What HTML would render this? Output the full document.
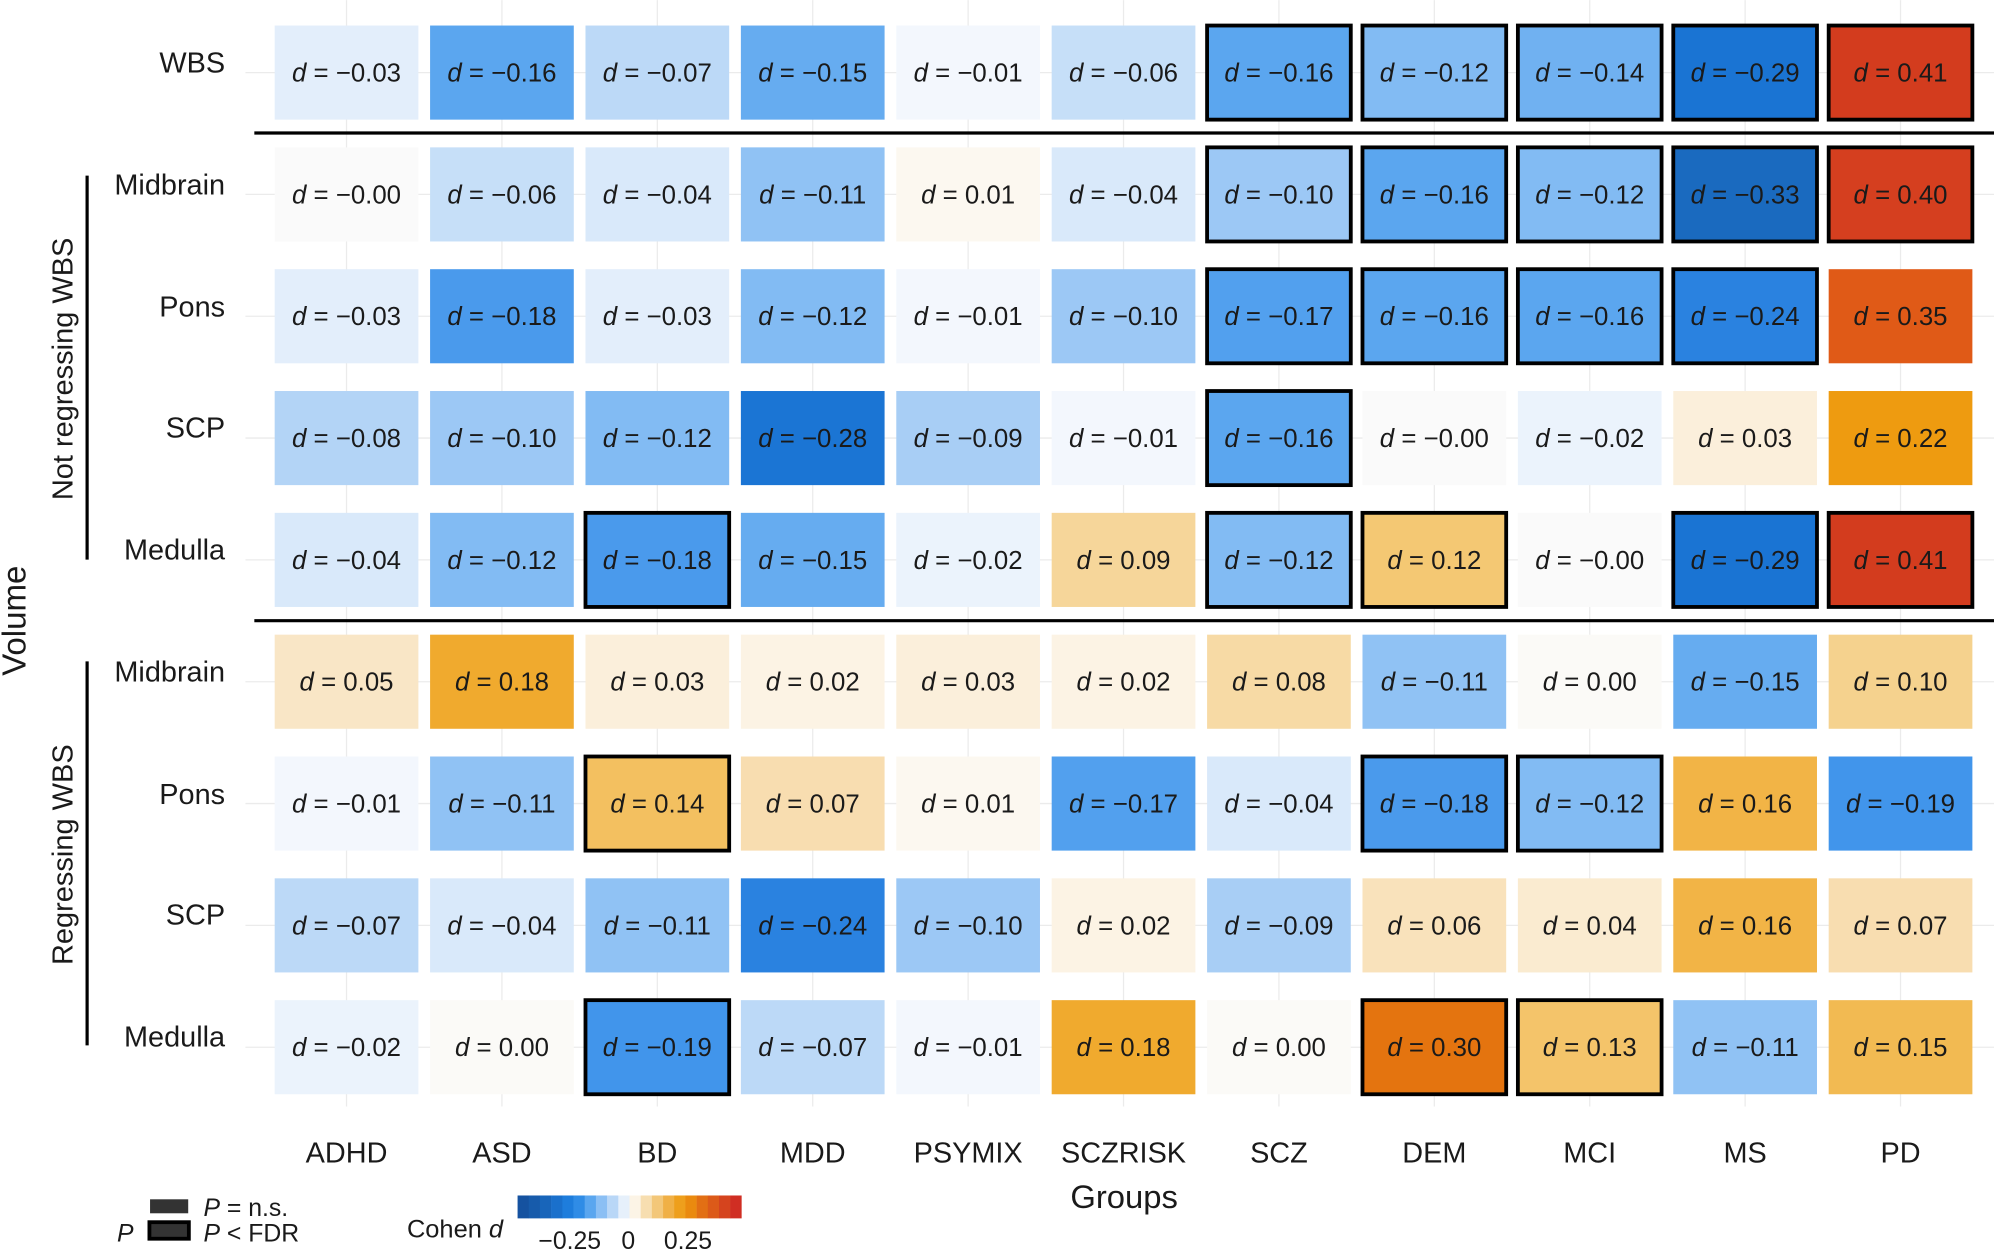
<!DOCTYPE html>
<html><head><meta charset="utf-8"><style>
html,body{margin:0;padding:0;background:#fff}
svg{display:block}
text{font-family:"Liberation Sans",sans-serif;fill:#1a1a1a}
.c text{font-size:20.3px;text-anchor:middle}
.b rect{stroke:#000;stroke-width:3}
.rl{font-size:22.7px;text-anchor:end}
.xl{font-size:22.7px;text-anchor:middle}
</style></head><body>
<svg width="1994" height="1249" viewBox="0 0 1568 982" xmlns="http://www.w3.org/2000/svg">
<g stroke="#ebebeb" stroke-width="1">
<line x1="272.5" y1="0" x2="272.5" y2="870"/><line x1="394.7" y1="0" x2="394.7" y2="870"/><line x1="516.9" y1="0" x2="516.9" y2="870"/><line x1="639.1" y1="0" x2="639.1" y2="870"/><line x1="761.3" y1="0" x2="761.3" y2="870"/><line x1="883.5" y1="0" x2="883.5" y2="870"/><line x1="1005.7" y1="0" x2="1005.7" y2="870"/><line x1="1127.9" y1="0" x2="1127.9" y2="870"/><line x1="1250.1" y1="0" x2="1250.1" y2="870"/><line x1="1372.3" y1="0" x2="1372.3" y2="870"/><line x1="1494.5" y1="0" x2="1494.5" y2="870"/>
<line x1="193" y1="57" x2="1568" y2="57"/><line x1="193" y1="152.8" x2="1568" y2="152.8"/><line x1="193" y1="248.6" x2="1568" y2="248.6"/><line x1="193" y1="344.4" x2="1568" y2="344.4"/><line x1="193" y1="440.2" x2="1568" y2="440.2"/><line x1="193" y1="536" x2="1568" y2="536"/><line x1="193" y1="631.8" x2="1568" y2="631.8"/><line x1="193" y1="727.6" x2="1568" y2="727.6"/><line x1="193" y1="823.4" x2="1568" y2="823.4"/>
</g>

<!-- WBS -->
<g transform="translate(0,20)">
<g class="c" transform="translate(216,0)"><rect width="113" height="74" fill="#e3eefb"/><text x="56.5" y="44"><tspan font-style="italic">d</tspan> = −0.03</text></g>
<g class="c" transform="translate(338.2,0)"><rect width="113" height="74" fill="#5ba6ef"/><text x="56.5" y="44"><tspan font-style="italic">d</tspan> = −0.16</text></g>
<g class="c" transform="translate(460.4,0)"><rect width="113" height="74" fill="#bcd9f7"/><text x="56.5" y="44"><tspan font-style="italic">d</tspan> = −0.07</text></g>
<g class="c" transform="translate(582.6,0)"><rect width="113" height="74" fill="#66acf0"/><text x="56.5" y="44"><tspan font-style="italic">d</tspan> = −0.15</text></g>
<g class="c" transform="translate(704.8,0)"><rect width="113" height="74" fill="#f3f7fd"/><text x="56.5" y="44"><tspan font-style="italic">d</tspan> = −0.01</text></g>
<g class="c" transform="translate(827,0)"><rect width="113" height="74" fill="#c6dff8"/><text x="56.5" y="44"><tspan font-style="italic">d</tspan> = −0.06</text></g>
<g class="c b" transform="translate(949.2,0)"><rect width="113" height="74" fill="#5ba6ef"/><text x="56.5" y="44"><tspan font-style="italic">d</tspan> = −0.16</text></g>
<g class="c b" transform="translate(1071.4,0)"><rect width="113" height="74" fill="#82bbf3"/><text x="56.5" y="44"><tspan font-style="italic">d</tspan> = −0.12</text></g>
<g class="c b" transform="translate(1193.6,0)"><rect width="113" height="74" fill="#70b1f1"/><text x="56.5" y="44"><tspan font-style="italic">d</tspan> = −0.14</text></g>
<g class="c b" transform="translate(1315.8,0)"><rect width="113" height="74" fill="#1a74d3"/><text x="56.5" y="44"><tspan font-style="italic">d</tspan> = −0.29</text></g>
<g class="c b" transform="translate(1438,0)"><rect width="113" height="74" fill="#d33c1e"/><text x="56.5" y="44"><tspan font-style="italic">d</tspan> = 0.41</text></g>
</g>

<!-- Midbrain -->
<g transform="translate(0,115.8)">
<g class="c" transform="translate(216,0)"><rect width="113" height="74" fill="#fafafa"/><text x="56.5" y="44"><tspan font-style="italic">d</tspan> = −0.00</text></g>
<g class="c" transform="translate(338.2,0)"><rect width="113" height="74" fill="#c6dff8"/><text x="56.5" y="44"><tspan font-style="italic">d</tspan> = −0.06</text></g>
<g class="c" transform="translate(460.4,0)"><rect width="113" height="74" fill="#d9e9fa"/><text x="56.5" y="44"><tspan font-style="italic">d</tspan> = −0.04</text></g>
<g class="c" transform="translate(582.6,0)"><rect width="113" height="74" fill="#90c2f4"/><text x="56.5" y="44"><tspan font-style="italic">d</tspan> = −0.11</text></g>
<g class="c" transform="translate(704.8,0)"><rect width="113" height="74" fill="#fcf8f0"/><text x="56.5" y="44"><tspan font-style="italic">d</tspan> = 0.01</text></g>
<g class="c" transform="translate(827,0)"><rect width="113" height="74" fill="#d9e9fa"/><text x="56.5" y="44"><tspan font-style="italic">d</tspan> = −0.04</text></g>
<g class="c b" transform="translate(949.2,0)"><rect width="113" height="74" fill="#9cc8f5"/><text x="56.5" y="44"><tspan font-style="italic">d</tspan> = −0.10</text></g>
<g class="c b" transform="translate(1071.4,0)"><rect width="113" height="74" fill="#5ba6ef"/><text x="56.5" y="44"><tspan font-style="italic">d</tspan> = −0.16</text></g>
<g class="c b" transform="translate(1193.6,0)"><rect width="113" height="74" fill="#82bbf3"/><text x="56.5" y="44"><tspan font-style="italic">d</tspan> = −0.12</text></g>
<g class="c b" transform="translate(1315.8,0)"><rect width="113" height="74" fill="#1a6abf"/><text x="56.5" y="44"><tspan font-style="italic">d</tspan> = −0.33</text></g>
<g class="c b" transform="translate(1438,0)"><rect width="113" height="74" fill="#d53f1f"/><text x="56.5" y="44"><tspan font-style="italic">d</tspan> = 0.40</text></g>
</g>

<!-- Pons -->
<g transform="translate(0,211.6)">
<g class="c" transform="translate(216,0)"><rect width="113" height="74" fill="#e3eefb"/><text x="56.5" y="44"><tspan font-style="italic">d</tspan> = −0.03</text></g>
<g class="c" transform="translate(338.2,0)"><rect width="113" height="74" fill="#4a9aec"/><text x="56.5" y="44"><tspan font-style="italic">d</tspan> = −0.18</text></g>
<g class="c" transform="translate(460.4,0)"><rect width="113" height="74" fill="#e3eefb"/><text x="56.5" y="44"><tspan font-style="italic">d</tspan> = −0.03</text></g>
<g class="c" transform="translate(582.6,0)"><rect width="113" height="74" fill="#82bbf3"/><text x="56.5" y="44"><tspan font-style="italic">d</tspan> = −0.12</text></g>
<g class="c" transform="translate(704.8,0)"><rect width="113" height="74" fill="#f3f7fd"/><text x="56.5" y="44"><tspan font-style="italic">d</tspan> = −0.01</text></g>
<g class="c" transform="translate(827,0)"><rect width="113" height="74" fill="#9cc8f5"/><text x="56.5" y="44"><tspan font-style="italic">d</tspan> = −0.10</text></g>
<g class="c b" transform="translate(949.2,0)"><rect width="113" height="74" fill="#52a0ee"/><text x="56.5" y="44"><tspan font-style="italic">d</tspan> = −0.17</text></g>
<g class="c b" transform="translate(1071.4,0)"><rect width="113" height="74" fill="#5ba6ef"/><text x="56.5" y="44"><tspan font-style="italic">d</tspan> = −0.16</text></g>
<g class="c b" transform="translate(1193.6,0)"><rect width="113" height="74" fill="#5ba6ef"/><text x="56.5" y="44"><tspan font-style="italic">d</tspan> = −0.16</text></g>
<g class="c b" transform="translate(1315.8,0)"><rect width="113" height="74" fill="#2a82e0"/><text x="56.5" y="44"><tspan font-style="italic">d</tspan> = −0.24</text></g>
<g class="c" transform="translate(1438,0)"><rect width="113" height="74" fill="#e05a17"/><text x="56.5" y="44"><tspan font-style="italic">d</tspan> = 0.35</text></g>
</g>

<!-- SCP -->
<g transform="translate(0,307.4)">
<g class="c" transform="translate(216,0)"><rect width="113" height="74" fill="#b3d4f6"/><text x="56.5" y="44"><tspan font-style="italic">d</tspan> = −0.08</text></g>
<g class="c" transform="translate(338.2,0)"><rect width="113" height="74" fill="#9cc8f5"/><text x="56.5" y="44"><tspan font-style="italic">d</tspan> = −0.10</text></g>
<g class="c" transform="translate(460.4,0)"><rect width="113" height="74" fill="#82bbf3"/><text x="56.5" y="44"><tspan font-style="italic">d</tspan> = −0.12</text></g>
<g class="c" transform="translate(582.6,0)"><rect width="113" height="74" fill="#1b75d4"/><text x="56.5" y="44"><tspan font-style="italic">d</tspan> = −0.28</text></g>
<g class="c" transform="translate(704.8,0)"><rect width="113" height="74" fill="#a8cef5"/><text x="56.5" y="44"><tspan font-style="italic">d</tspan> = −0.09</text></g>
<g class="c" transform="translate(827,0)"><rect width="113" height="74" fill="#f3f7fd"/><text x="56.5" y="44"><tspan font-style="italic">d</tspan> = −0.01</text></g>
<g class="c b" transform="translate(949.2,0)"><rect width="113" height="74" fill="#5ba6ef"/><text x="56.5" y="44"><tspan font-style="italic">d</tspan> = −0.16</text></g>
<g class="c" transform="translate(1071.4,0)"><rect width="113" height="74" fill="#fafafa"/><text x="56.5" y="44"><tspan font-style="italic">d</tspan> = −0.00</text></g>
<g class="c" transform="translate(1193.6,0)"><rect width="113" height="74" fill="#ebf3fc"/><text x="56.5" y="44"><tspan font-style="italic">d</tspan> = −0.02</text></g>
<g class="c" transform="translate(1315.8,0)"><rect width="113" height="74" fill="#fbefdb"/><text x="56.5" y="44"><tspan font-style="italic">d</tspan> = 0.03</text></g>
<g class="c" transform="translate(1438,0)"><rect width="113" height="74" fill="#ee9b10"/><text x="56.5" y="44"><tspan font-style="italic">d</tspan> = 0.22</text></g>
</g>

<!-- Medulla -->
<g transform="translate(0,403.2)">
<g class="c" transform="translate(216,0)"><rect width="113" height="74" fill="#d9e9fa"/><text x="56.5" y="44"><tspan font-style="italic">d</tspan> = −0.04</text></g>
<g class="c" transform="translate(338.2,0)"><rect width="113" height="74" fill="#82bbf3"/><text x="56.5" y="44"><tspan font-style="italic">d</tspan> = −0.12</text></g>
<g class="c b" transform="translate(460.4,0)"><rect width="113" height="74" fill="#4a9aec"/><text x="56.5" y="44"><tspan font-style="italic">d</tspan> = −0.18</text></g>
<g class="c" transform="translate(582.6,0)"><rect width="113" height="74" fill="#66acf0"/><text x="56.5" y="44"><tspan font-style="italic">d</tspan> = −0.15</text></g>
<g class="c" transform="translate(704.8,0)"><rect width="113" height="74" fill="#ebf3fc"/><text x="56.5" y="44"><tspan font-style="italic">d</tspan> = −0.02</text></g>
<g class="c" transform="translate(827,0)"><rect width="113" height="74" fill="#f6d69a"/><text x="56.5" y="44"><tspan font-style="italic">d</tspan> = 0.09</text></g>
<g class="c b" transform="translate(949.2,0)"><rect width="113" height="74" fill="#82bbf3"/><text x="56.5" y="44"><tspan font-style="italic">d</tspan> = −0.12</text></g>
<g class="c b" transform="translate(1071.4,0)"><rect width="113" height="74" fill="#f4c873"/><text x="56.5" y="44"><tspan font-style="italic">d</tspan> = 0.12</text></g>
<g class="c" transform="translate(1193.6,0)"><rect width="113" height="74" fill="#fafafa"/><text x="56.5" y="44"><tspan font-style="italic">d</tspan> = −0.00</text></g>
<g class="c b" transform="translate(1315.8,0)"><rect width="113" height="74" fill="#1a74d3"/><text x="56.5" y="44"><tspan font-style="italic">d</tspan> = −0.29</text></g>
<g class="c b" transform="translate(1438,0)"><rect width="113" height="74" fill="#d33c1e"/><text x="56.5" y="44"><tspan font-style="italic">d</tspan> = 0.41</text></g>
</g>

<!-- R Midbrain -->
<g transform="translate(0,499)">
<g class="c" transform="translate(216,0)"><rect width="113" height="74" fill="#f9e6c6"/><text x="56.5" y="44"><tspan font-style="italic">d</tspan> = 0.05</text></g>
<g class="c" transform="translate(338.2,0)"><rect width="113" height="74" fill="#f0aa2e"/><text x="56.5" y="44"><tspan font-style="italic">d</tspan> = 0.18</text></g>
<g class="c" transform="translate(460.4,0)"><rect width="113" height="74" fill="#fbefdb"/><text x="56.5" y="44"><tspan font-style="italic">d</tspan> = 0.03</text></g>
<g class="c" transform="translate(582.6,0)"><rect width="113" height="74" fill="#fcf3e4"/><text x="56.5" y="44"><tspan font-style="italic">d</tspan> = 0.02</text></g>
<g class="c" transform="translate(704.8,0)"><rect width="113" height="74" fill="#fbefdb"/><text x="56.5" y="44"><tspan font-style="italic">d</tspan> = 0.03</text></g>
<g class="c" transform="translate(827,0)"><rect width="113" height="74" fill="#fcf3e4"/><text x="56.5" y="44"><tspan font-style="italic">d</tspan> = 0.02</text></g>
<g class="c" transform="translate(949.2,0)"><rect width="113" height="74" fill="#f7daa5"/><text x="56.5" y="44"><tspan font-style="italic">d</tspan> = 0.08</text></g>
<g class="c" transform="translate(1071.4,0)"><rect width="113" height="74" fill="#90c2f4"/><text x="56.5" y="44"><tspan font-style="italic">d</tspan> = −0.11</text></g>
<g class="c" transform="translate(1193.6,0)"><rect width="113" height="74" fill="#fbfaf7"/><text x="56.5" y="44"><tspan font-style="italic">d</tspan> = 0.00</text></g>
<g class="c" transform="translate(1315.8,0)"><rect width="113" height="74" fill="#66acf0"/><text x="56.5" y="44"><tspan font-style="italic">d</tspan> = −0.15</text></g>
<g class="c" transform="translate(1438,0)"><rect width="113" height="74" fill="#f5d28e"/><text x="56.5" y="44"><tspan font-style="italic">d</tspan> = 0.10</text></g>
</g>

<!-- R Pons -->
<g transform="translate(0,594.8)">
<g class="c" transform="translate(216,0)"><rect width="113" height="74" fill="#f3f7fd"/><text x="56.5" y="44"><tspan font-style="italic">d</tspan> = −0.01</text></g>
<g class="c" transform="translate(338.2,0)"><rect width="113" height="74" fill="#90c2f4"/><text x="56.5" y="44"><tspan font-style="italic">d</tspan> = −0.11</text></g>
<g class="c b" transform="translate(460.4,0)"><rect width="113" height="74" fill="#f3c060"/><text x="56.5" y="44"><tspan font-style="italic">d</tspan> = 0.14</text></g>
<g class="c" transform="translate(582.6,0)"><rect width="113" height="74" fill="#f8ddb0"/><text x="56.5" y="44"><tspan font-style="italic">d</tspan> = 0.07</text></g>
<g class="c" transform="translate(704.8,0)"><rect width="113" height="74" fill="#fcf8f0"/><text x="56.5" y="44"><tspan font-style="italic">d</tspan> = 0.01</text></g>
<g class="c" transform="translate(827,0)"><rect width="113" height="74" fill="#52a0ee"/><text x="56.5" y="44"><tspan font-style="italic">d</tspan> = −0.17</text></g>
<g class="c" transform="translate(949.2,0)"><rect width="113" height="74" fill="#d9e9fa"/><text x="56.5" y="44"><tspan font-style="italic">d</tspan> = −0.04</text></g>
<g class="c b" transform="translate(1071.4,0)"><rect width="113" height="74" fill="#4a9aec"/><text x="56.5" y="44"><tspan font-style="italic">d</tspan> = −0.18</text></g>
<g class="c b" transform="translate(1193.6,0)"><rect width="113" height="74" fill="#82bbf3"/><text x="56.5" y="44"><tspan font-style="italic">d</tspan> = −0.12</text></g>
<g class="c" transform="translate(1315.8,0)"><rect width="113" height="74" fill="#f2b446"/><text x="56.5" y="44"><tspan font-style="italic">d</tspan> = 0.16</text></g>
<g class="c" transform="translate(1438,0)"><rect width="113" height="74" fill="#4195eb"/><text x="56.5" y="44"><tspan font-style="italic">d</tspan> = −0.19</text></g>
</g>

<!-- R SCP -->
<g transform="translate(0,690.6)">
<g class="c" transform="translate(216,0)"><rect width="113" height="74" fill="#bcd9f7"/><text x="56.5" y="44"><tspan font-style="italic">d</tspan> = −0.07</text></g>
<g class="c" transform="translate(338.2,0)"><rect width="113" height="74" fill="#d9e9fa"/><text x="56.5" y="44"><tspan font-style="italic">d</tspan> = −0.04</text></g>
<g class="c" transform="translate(460.4,0)"><rect width="113" height="74" fill="#90c2f4"/><text x="56.5" y="44"><tspan font-style="italic">d</tspan> = −0.11</text></g>
<g class="c" transform="translate(582.6,0)"><rect width="113" height="74" fill="#2a82e0"/><text x="56.5" y="44"><tspan font-style="italic">d</tspan> = −0.24</text></g>
<g class="c" transform="translate(704.8,0)"><rect width="113" height="74" fill="#9cc8f5"/><text x="56.5" y="44"><tspan font-style="italic">d</tspan> = −0.10</text></g>
<g class="c" transform="translate(827,0)"><rect width="113" height="74" fill="#fcf3e4"/><text x="56.5" y="44"><tspan font-style="italic">d</tspan> = 0.02</text></g>
<g class="c" transform="translate(949.2,0)"><rect width="113" height="74" fill="#a8cef5"/><text x="56.5" y="44"><tspan font-style="italic">d</tspan> = −0.09</text></g>
<g class="c" transform="translate(1071.4,0)"><rect width="113" height="74" fill="#f9e2bb"/><text x="56.5" y="44"><tspan font-style="italic">d</tspan> = 0.06</text></g>
<g class="c" transform="translate(1193.6,0)"><rect width="113" height="74" fill="#faebd0"/><text x="56.5" y="44"><tspan font-style="italic">d</tspan> = 0.04</text></g>
<g class="c" transform="translate(1315.8,0)"><rect width="113" height="74" fill="#f2b446"/><text x="56.5" y="44"><tspan font-style="italic">d</tspan> = 0.16</text></g>
<g class="c" transform="translate(1438,0)"><rect width="113" height="74" fill="#f8ddb0"/><text x="56.5" y="44"><tspan font-style="italic">d</tspan> = 0.07</text></g>
</g>

<!-- R Medulla -->
<g transform="translate(0,786.4)">
<g class="c" transform="translate(216,0)"><rect width="113" height="74" fill="#ebf3fc"/><text x="56.5" y="44"><tspan font-style="italic">d</tspan> = −0.02</text></g>
<g class="c" transform="translate(338.2,0)"><rect width="113" height="74" fill="#fbfaf7"/><text x="56.5" y="44"><tspan font-style="italic">d</tspan> = 0.00</text></g>
<g class="c b" transform="translate(460.4,0)"><rect width="113" height="74" fill="#4195eb"/><text x="56.5" y="44"><tspan font-style="italic">d</tspan> = −0.19</text></g>
<g class="c" transform="translate(582.6,0)"><rect width="113" height="74" fill="#bcd9f7"/><text x="56.5" y="44"><tspan font-style="italic">d</tspan> = −0.07</text></g>
<g class="c" transform="translate(704.8,0)"><rect width="113" height="74" fill="#f3f7fd"/><text x="56.5" y="44"><tspan font-style="italic">d</tspan> = −0.01</text></g>
<g class="c" transform="translate(827,0)"><rect width="113" height="74" fill="#f0aa2e"/><text x="56.5" y="44"><tspan font-style="italic">d</tspan> = 0.18</text></g>
<g class="c" transform="translate(949.2,0)"><rect width="113" height="74" fill="#fbfaf7"/><text x="56.5" y="44"><tspan font-style="italic">d</tspan> = 0.00</text></g>
<g class="c b" transform="translate(1071.4,0)"><rect width="113" height="74" fill="#e4740f"/><text x="56.5" y="44"><tspan font-style="italic">d</tspan> = 0.30</text></g>
<g class="c b" transform="translate(1193.6,0)"><rect width="113" height="74" fill="#f4c46a"/><text x="56.5" y="44"><tspan font-style="italic">d</tspan> = 0.13</text></g>
<g class="c" transform="translate(1315.8,0)"><rect width="113" height="74" fill="#90c2f4"/><text x="56.5" y="44"><tspan font-style="italic">d</tspan> = −0.11</text></g>
<g class="c" transform="translate(1438,0)"><rect width="113" height="74" fill="#f2ba52"/><text x="56.5" y="44"><tspan font-style="italic">d</tspan> = 0.15</text></g>
</g>

<!-- separators -->
<line x1="200" y1="104.5" x2="1568" y2="104.5" stroke="#000" stroke-width="2.5"/>
<line x1="200" y1="488" x2="1568" y2="488" stroke="#000" stroke-width="2.5"/>
<line x1="68.5" y1="138" x2="68.5" y2="440" stroke="#000" stroke-width="2.5"/>
<line x1="68.5" y1="520" x2="68.5" y2="822" stroke="#000" stroke-width="2.5"/>

<!-- row labels -->
<text class="rl" x="177" y="57">WBS</text>
<text class="rl" x="177" y="153">Midbrain</text>
<text class="rl" x="177" y="249">Pons</text>
<text class="rl" x="177" y="344">SCP</text>
<text class="rl" x="177" y="440">Medulla</text>
<text class="rl" x="177" y="536">Midbrain</text>
<text class="rl" x="177" y="632">Pons</text>
<text class="rl" x="177" y="727">SCP</text>
<text class="rl" x="177" y="823">Medulla</text>
<text font-size="22.8" text-anchor="middle" transform="translate(57,290) rotate(-90)">Not regressing WBS</text>
<text font-size="22.8" text-anchor="middle" transform="translate(57,672) rotate(-90)">Regressing WBS</text>
<text font-size="26" text-anchor="middle" transform="translate(20,488) rotate(-90)">Volume</text>

<!-- x labels -->
<text class="xl" x="272.5" y="914">ADHD</text>
<text class="xl" x="394.7" y="914">ASD</text>
<text class="xl" x="516.9" y="914">BD</text>
<text class="xl" x="639.1" y="914">MDD</text>
<text class="xl" x="761.3" y="914">PSYMIX</text>
<text class="xl" x="883.5" y="914">SCZRISK</text>
<text class="xl" x="1005.7" y="914">SCZ</text>
<text class="xl" x="1127.9" y="914">DEM</text>
<text class="xl" x="1250.1" y="914">MCI</text>
<text class="xl" x="1372.3" y="914">MS</text>
<text class="xl" x="1494.5" y="914">PD</text>
<text font-size="25.8" text-anchor="middle" x="884" y="950">Groups</text>

<!-- legend -->
<rect x="118" y="943" width="30" height="11" fill="#333"/>
<rect x="117.5" y="961" width="31" height="13" fill="#333" stroke="#000" stroke-width="3"/>
<text font-size="19.5" x="160" y="956"><tspan font-style="italic">P</tspan> = n.s.</text>
<text font-size="19.5" x="160" y="976"><tspan font-style="italic">P</tspan> &lt; FDR</text>
<text font-size="19.5" x="92" y="976" font-style="italic">P</text>
<text font-size="20" x="320" y="973">Cohen <tspan font-style="italic">d</tspan></text>
<g transform="translate(407,940)">
<rect x="0" width="9" height="18" fill="#1552a0"/><rect x="8.8" width="9" height="18" fill="#175bab"/><rect x="17.6" width="9" height="18" fill="#1865ba"/><rect x="26.4" width="9" height="18" fill="#1a70cc"/><rect x="35.2" width="9" height="18" fill="#1e7ddc"/><rect x="44" width="9" height="18" fill="#2f8ce6"/><rect x="52.8" width="9" height="18" fill="#5aa6ef"/><rect x="61.6" width="9" height="18" fill="#8bbff4"/><rect x="70.4" width="9" height="18" fill="#b9d7f7"/><rect x="79.2" width="9" height="18" fill="#e6f0fb"/><rect x="88" width="9" height="18" fill="#fcf4e6"/><rect x="96.8" width="9" height="18" fill="#f7deb0"/><rect x="105.6" width="9" height="18" fill="#f3c779"/><rect x="114.4" width="9" height="18" fill="#f0b046"/><rect x="123.2" width="9" height="18" fill="#ee9f1c"/><rect x="132" width="9" height="18" fill="#ea8a0f"/><rect x="140.8" width="9" height="18" fill="#e26f14"/><rect x="149.6" width="9" height="18" fill="#dc5a19"/><rect x="158.4" width="9" height="18" fill="#d5441e"/><rect x="167.2" width="9" height="18" fill="#d02e23"/>
</g>
<text font-size="19.5" text-anchor="middle" x="448" y="982">−0.25</text>
<text font-size="19.5" text-anchor="middle" x="494" y="982">0</text>
<text font-size="19.5" text-anchor="middle" x="541" y="982">0.25</text>
</svg>
</body></html>
